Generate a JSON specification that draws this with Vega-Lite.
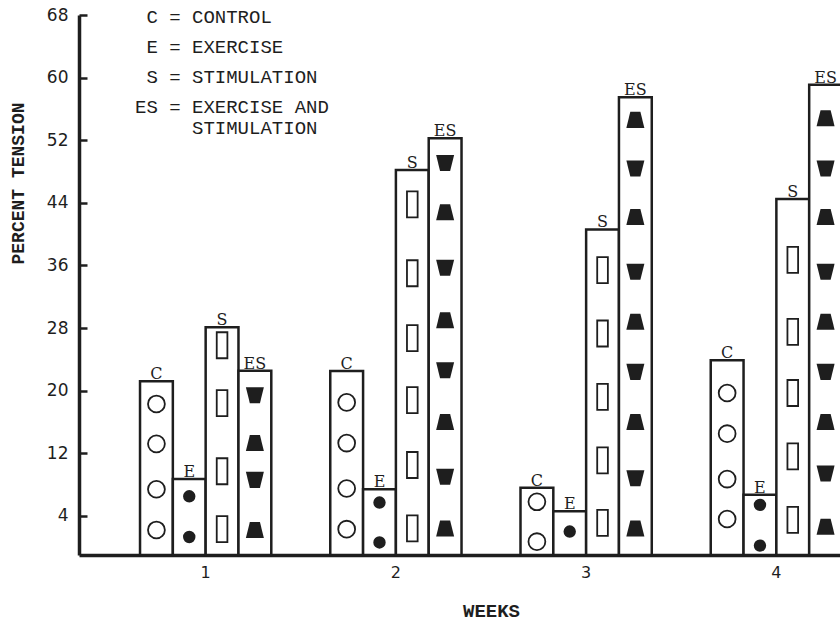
{
  "$schema": "https://vega.github.io/schema/vega-lite/v6.json",
  "autosize": {"type": "none"},
  "width": 761,
  "height": 540,
  "padding": {"left": 79, "top": 15, "right": 0, "bottom": 69},
  "background": "white",
  "config": {"view": {"stroke": null}, "axis": {"grid": false}},
  "datasets": {
    "bars": [
      {"week": "1", "group": "C", "value": 21.2},
      {"week": "1", "group": "E", "value": 8.7},
      {"week": "1", "group": "S", "value": 28.1},
      {"week": "1", "group": "ES", "value": 22.55},
      {"week": "2", "group": "C", "value": 22.5},
      {"week": "2", "group": "E", "value": 7.4},
      {"week": "2", "group": "S", "value": 48.2},
      {"week": "2", "group": "ES", "value": 52.25},
      {"week": "3", "group": "C", "value": 7.6},
      {"week": "3", "group": "E", "value": 4.6},
      {"week": "3", "group": "S", "value": 40.6},
      {"week": "3", "group": "ES", "value": 57.5},
      {"week": "4", "group": "C", "value": 23.9},
      {"week": "4", "group": "E", "value": 6.7},
      {"week": "4", "group": "S", "value": 44.5},
      {"week": "4", "group": "ES", "value": 59.1}
    ],
    "symbols": [
      {"week": "1", "group": "C", "sym": "C", "value": 18.3},
      {"week": "1", "group": "C", "sym": "C", "value": 13.2},
      {"week": "1", "group": "C", "sym": "C", "value": 7.4},
      {"week": "1", "group": "C", "sym": "C", "value": 2.2},
      {"week": "1", "group": "E", "sym": "E", "value": 6.5},
      {"week": "1", "group": "E", "sym": "E", "value": 1.3},
      {"week": "1", "group": "S", "sym": "S", "value": 25.8},
      {"week": "1", "group": "S", "sym": "S", "value": 18.4},
      {"week": "1", "group": "S", "sym": "S", "value": 9.7},
      {"week": "1", "group": "S", "sym": "S", "value": 2.3},
      {"week": "1", "group": "ES", "sym": "down", "value": 19.4},
      {"week": "1", "group": "ES", "sym": "up", "value": 13.3},
      {"week": "1", "group": "ES", "sym": "down", "value": 8.6},
      {"week": "1", "group": "ES", "sym": "up", "value": 2.2},
      {"week": "2", "group": "C", "sym": "C", "value": 18.5},
      {"week": "2", "group": "C", "sym": "C", "value": 13.3},
      {"week": "2", "group": "C", "sym": "C", "value": 7.5},
      {"week": "2", "group": "C", "sym": "C", "value": 2.3},
      {"week": "2", "group": "E", "sym": "E", "value": 5.7},
      {"week": "2", "group": "E", "sym": "E", "value": 0.6},
      {"week": "2", "group": "S", "sym": "S", "value": 43.8},
      {"week": "2", "group": "S", "sym": "S", "value": 35.0},
      {"week": "2", "group": "S", "sym": "S", "value": 26.7},
      {"week": "2", "group": "S", "sym": "S", "value": 18.8},
      {"week": "2", "group": "S", "sym": "S", "value": 10.5},
      {"week": "2", "group": "S", "sym": "S", "value": 2.4},
      {"week": "2", "group": "ES", "sym": "down", "value": 49.1},
      {"week": "2", "group": "ES", "sym": "up", "value": 42.8},
      {"week": "2", "group": "ES", "sym": "down", "value": 35.7},
      {"week": "2", "group": "ES", "sym": "up", "value": 29.0},
      {"week": "2", "group": "ES", "sym": "down", "value": 22.6},
      {"week": "2", "group": "ES", "sym": "up", "value": 16.0},
      {"week": "2", "group": "ES", "sym": "down", "value": 9.0},
      {"week": "2", "group": "ES", "sym": "up", "value": 2.4},
      {"week": "3", "group": "C", "sym": "C", "value": 5.8},
      {"week": "3", "group": "C", "sym": "C", "value": 0.7},
      {"week": "3", "group": "E", "sym": "E", "value": 2.0},
      {"week": "3", "group": "S", "sym": "S", "value": 35.4},
      {"week": "3", "group": "S", "sym": "S", "value": 27.3},
      {"week": "3", "group": "S", "sym": "S", "value": 19.2},
      {"week": "3", "group": "S", "sym": "S", "value": 11.1},
      {"week": "3", "group": "S", "sym": "S", "value": 3.1},
      {"week": "3", "group": "ES", "sym": "up", "value": 54.6},
      {"week": "3", "group": "ES", "sym": "down", "value": 48.4},
      {"week": "3", "group": "ES", "sym": "up", "value": 42.2},
      {"week": "3", "group": "ES", "sym": "down", "value": 35.2},
      {"week": "3", "group": "ES", "sym": "up", "value": 28.8},
      {"week": "3", "group": "ES", "sym": "down", "value": 22.4},
      {"week": "3", "group": "ES", "sym": "up", "value": 16.0},
      {"week": "3", "group": "ES", "sym": "down", "value": 8.8},
      {"week": "3", "group": "ES", "sym": "up", "value": 2.4},
      {"week": "4", "group": "C", "sym": "C", "value": 19.7},
      {"week": "4", "group": "C", "sym": "C", "value": 14.5},
      {"week": "4", "group": "C", "sym": "C", "value": 8.7},
      {"week": "4", "group": "C", "sym": "C", "value": 3.6},
      {"week": "4", "group": "E", "sym": "E", "value": 5.4},
      {"week": "4", "group": "E", "sym": "E", "value": 0.2},
      {"week": "4", "group": "S", "sym": "S", "value": 36.7},
      {"week": "4", "group": "S", "sym": "S", "value": 27.5},
      {"week": "4", "group": "S", "sym": "S", "value": 19.7},
      {"week": "4", "group": "S", "sym": "S", "value": 11.6},
      {"week": "4", "group": "S", "sym": "S", "value": 3.5},
      {"week": "4", "group": "ES", "sym": "up", "value": 54.8},
      {"week": "4", "group": "ES", "sym": "down", "value": 48.4},
      {"week": "4", "group": "ES", "sym": "up", "value": 42.2},
      {"week": "4", "group": "ES", "sym": "down", "value": 35.2},
      {"week": "4", "group": "ES", "sym": "up", "value": 28.8},
      {"week": "4", "group": "ES", "sym": "down", "value": 22.4},
      {"week": "4", "group": "ES", "sym": "up", "value": 16.0},
      {"week": "4", "group": "ES", "sym": "down", "value": 9.4},
      {"week": "4", "group": "ES", "sym": "up", "value": 2.6}
    ]
  },
  "encoding": {
    "x": {
      "field": "week",
      "type": "nominal",
      "sort": ["1", "2", "3", "4"],
      "scale": {"range": [0, 763], "paddingInner": 0.31, "paddingOuter": 0.1604, "align": 1},
      "axis": {
        "title": "WEEKS",
        "titleFont": "Liberation Mono",
        "titleFontSize": 19,
        "titleFontWeight": "bold",
        "titleColor": "#1e1e1e",
        "titleX": 412,
        "titleY": 55,
        "titleAlign": "center",
        "titleBaseline": "middle",
        "labelAngle": 0,
        "labelFont": "DejaVu Sans",
        "labelFontSize": 16,
        "labelColor": "#1e1e1e",
        "labelPadding": 9,
        "ticks": false,
        "domainColor": "#1e1e1e",
        "domainWidth": 3.5
      }
    },
    "xOffset": {"field": "group", "type": "nominal", "scale": {"domain": ["C", "E", "S", "ES"], "paddingInner": 0, "paddingOuter": 0}},
    "y": {
      "field": "value",
      "type": "quantitative",
      "scale": {"domain": [-1, 68], "nice": false, "zero": false},
      "axis": {
        "values": [4, 12, 20, 28, 36, 44, 52, 60, 68],
        "title": "PERCENT TENSION",
        "titleFont": "Liberation Mono",
        "titleFontSize": 18,
        "titleFontWeight": "bold",
        "titleColor": "#1e1e1e",
        "titleAngle": 270,
        "titleX": -61,
        "titleY": 168,
        "titleAlign": "center",
        "titleBaseline": "middle",
        "labelFont": "DejaVu Sans",
        "labelFontSize": 17,
        "labelColor": "#1e1e1e",
        "tickSize": -8,
        "tickWidth": 2.5,
        "tickColor": "#1e1e1e",
        "labelPadding": 19,
        "domainColor": "#1e1e1e",
        "domainWidth": 3.5
      }
    }
  },
  "layer": [
    {
      "data": {"name": "bars"},
      "mark": {"type": "bar", "stroke": "#1e1e1e", "strokeWidth": 2.5, "fillOpacity": 1},
      "encoding": {
        "y2": {"datum": -1},
        "fill": {
          "field": "group",
          "type": "nominal",
          "scale": {"domain": ["C", "E", "S", "ES"], "range": ["white", "white", "white", "white"]},
          "legend": {
            "orient": "none",
            "legendX": 37,
            "legendY": -8,
            "title": null,
            "symbolSize": 0,
            "symbolOpacity": 0,
            "symbolStrokeWidth": 0,
            "labelOffset": 0,
            "labelFont": "Liberation Mono",
            "labelFontSize": 19,
            "labelColor": "#1e1e1e",
            "labelLimit": 0,
            "rowPadding": 10,
            "labelExpr": "datum.label == 'C' ? '\u200b\u00a0C = CONTROL' : datum.label == 'E' ? '\u200b\u00a0E = EXERCISE' : datum.label == 'S' ? '\u200b\u00a0S = STIMULATION' : ['ES = EXERCISE AND', '\u200b\u00a0\u00a0\u00a0\u00a0\u00a0STIMULATION']"
          }
        }
      }
    },
    {
      "data": {"name": "bars"},
      "mark": {"type": "text", "baseline": "alphabetic", "dy": -2, "font": "DejaVu Serif", "fontSize": 16, "color": "#1e1e1e"},
      "encoding": {"text": {"field": "group"}}
    },
    {
      "data": {"name": "symbols"},
      "transform": [{"filter": "datum.sym == 'C'"}],
      "mark": {"type": "point", "shape": "circle", "filled": false, "stroke": "#1e1e1e", "strokeWidth": 1.8, "size": 284, "opacity": 1}
    },
    {
      "data": {"name": "symbols"},
      "transform": [{"filter": "datum.sym == 'E'"}],
      "mark": {"type": "point", "shape": "circle", "filled": true, "fill": "#1e1e1e", "size": 154, "opacity": 1}
    },
    {
      "data": {"name": "symbols"},
      "transform": [{"filter": "datum.sym == 'S'"}],
      "mark": {"type": "point", "shape": "M-0.41,-1H0.41V1H-0.41Z", "filled": false, "stroke": "#1e1e1e", "strokeWidth": 1.8, "size": 676, "opacity": 1}
    },
    {
      "data": {"name": "symbols"},
      "transform": [{"filter": "datum.sym == 'up'"}],
      "mark": {"type": "point", "shape": "M-0.56,-0.89L0.56,-0.89L1,0.89L-1,0.89Z", "filled": true, "fill": "#1e1e1e", "size": 324, "opacity": 1}
    },
    {
      "data": {"name": "symbols"},
      "transform": [{"filter": "datum.sym == 'down'"}],
      "mark": {"type": "point", "shape": "M-1,-0.89L1,-0.89L0.56,0.89L-0.56,0.89Z", "filled": true, "fill": "#1e1e1e", "size": 324, "opacity": 1}
    }
  ]
}
